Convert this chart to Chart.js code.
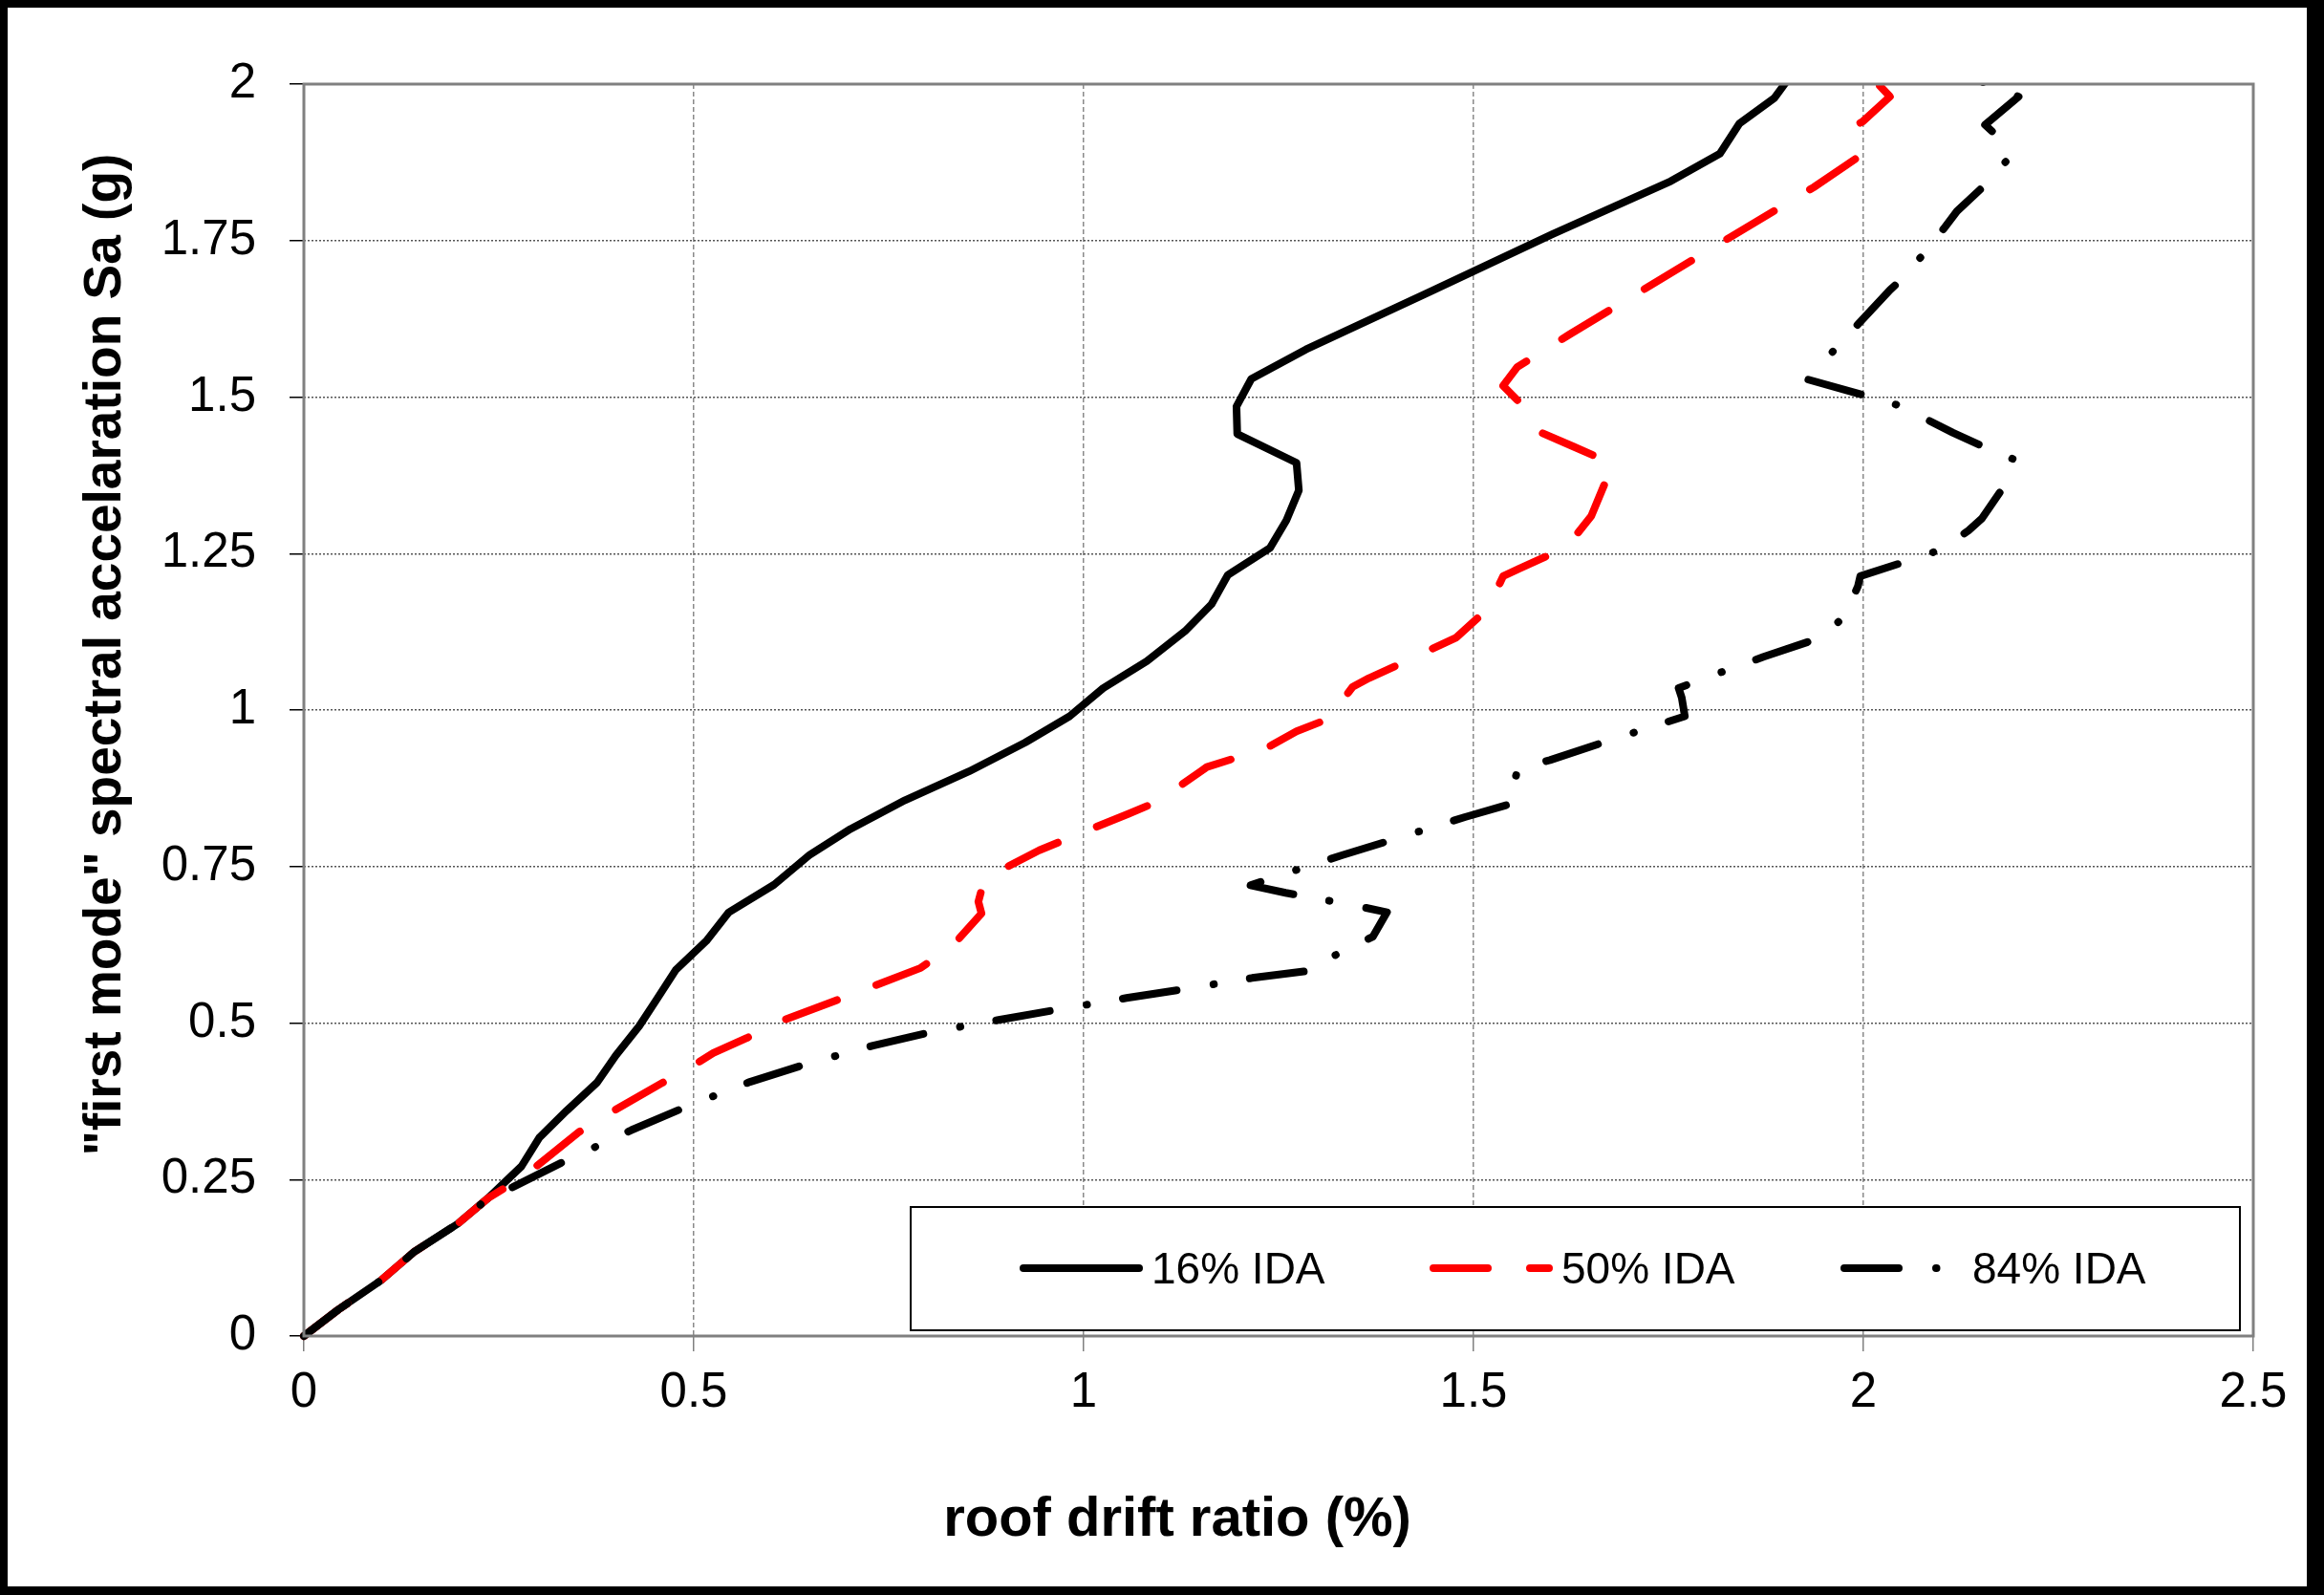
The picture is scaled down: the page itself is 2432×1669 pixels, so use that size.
<!DOCTYPE html>
<html>
<head>
<meta charset="utf-8">
<script src="https://cdn.jsdelivr.net/npm/chart.js@4.4.1/dist/chart.umd.min.js"></script>
<style>
html,body{margin:0;padding:0;background:#fff;}
canvas{display:block;}
</style>
</head>
<body>
<canvas id="c" width="2432" height="1669"></canvas>
<script>
// ---- data (roof drift ratio in %, Sa in g) ----
const drift16 = [0,0.044,0.099,0.142,0.197,0.236,0.279,0.302,0.337,0.376,0.400,0.430,0.451,0.477,0.516,0.545,0.603,0.649,0.701,0.771,0.853,0.925,0.982,1.025,1.081,1.130,1.164,1.185,1.239,1.260,1.276,1.273,1.197,1.196,1.215,1.285,1.440,1.601,1.753,1.816,1.841,1.886,1.899,1.911];
const sa16    = [0,0.042,0.089,0.135,0.179,0.220,0.271,0.317,0.360,0.405,0.448,0.495,0.535,0.585,0.631,0.677,0.721,0.769,0.810,0.856,0.902,0.948,0.990,1.035,1.078,1.126,1.169,1.216,1.259,1.303,1.351,1.395,1.441,1.485,1.529,1.576,1.666,1.760,1.845,1.889,1.937,1.978,2.000,2.020];

const drift50 = [0,0.044,0.099,0.142,0.197,0.236,0.262,0.291,0.353,0.392,0.459,0.498,0.525,0.568,0.603,0.678,0.720,0.791,0.826,0.838,0.869,0.865,0.873,0.943,0.982,1.057,1.095,1.150,1.158,1.199,1.240,1.273,1.314,1.345,1.366,1.408,1.478,1.509,1.520,1.538,1.559,1.619,1.651,1.668,1.675,1.628,1.587,1.565,1.538,1.556,1.623,1.830,1.936,2.000,1.994,1.999,2.034,2.019,2.010];
const sa50    = [0,0.042,0.089,0.135,0.179,0.220,0.240,0.264,0.326,0.356,0.404,0.431,0.452,0.476,0.499,0.534,0.554,0.588,0.619,0.632,0.675,0.694,0.731,0.776,0.796,0.834,0.854,0.902,0.909,0.925,0.943,0.966,0.986,1.037,1.051,1.075,1.116,1.151,1.166,1.214,1.226,1.260,1.310,1.361,1.395,1.421,1.443,1.484,1.518,1.548,1.600,1.756,1.835,1.889,1.937,1.940,1.980,2.000,2.020];

const drift84 = [0,0.044,0.099,0.142,0.197,0.236,0.268,0.337,0.420,0.490,0.572,0.646,0.730,0.806,0.891,0.969,1.055,1.133,1.216,1.293,1.296,1.371,1.389,1.343,1.259,1.214,1.249,1.331,1.407,1.489,1.553,1.549,1.557,1.598,1.673,1.771,1.767,1.763,1.788,1.830,1.872,1.946,1.976,1.993,1.996,2.061,2.101,2.135,2.152,2.184,2.192,2.152,2.115,2.080,2.042,2.001,1.929,1.935,1.963,1.992,2.034,2.048,2.076,2.103,2.120,2.157,2.186,2.169,2.156,2.199,2.120];
const sa84    = [0,0.042,0.089,0.135,0.179,0.220,0.238,0.281,0.329,0.366,0.406,0.435,0.464,0.486,0.505,0.522,0.540,0.555,0.572,0.584,0.592,0.638,0.677,0.689,0.708,0.720,0.735,0.768,0.797,0.829,0.852,0.869,0.907,0.920,0.951,0.990,1.020,1.035,1.047,1.066,1.085,1.116,1.150,1.198,1.214,1.240,1.257,1.287,1.306,1.364,1.401,1.422,1.443,1.465,1.488,1.503,1.528,1.535,1.576,1.615,1.671,1.687,1.727,1.769,1.797,1.840,1.881,1.920,1.935,1.980,2.020];

const seriesNames = ['16% IDA','50% IDA','84% IDA'];
const xTickLabels = ['0','0.5','1','1.5','2','2.5'];
const yTickLabels = ['0','0.25','0.5','0.75','1','1.25','1.5','1.75','2'];
const xTitle = 'roof drift ratio (%)';
const yTitle = '"first mode" spectral accelaration Sa (g)';

const FONT = '"Liberation Sans", Arial, sans-serif';
const toPts = (xs, ys) => xs.map((x, i) => ({x: x, y: ys[i]}));

// outer black frame + white background
const outerFrame = {
  id: 'outerFrame',
  beforeDraw(chart) {
    const {ctx, width, height} = chart;
    ctx.save();
    ctx.fillStyle = '#fff';
    ctx.fillRect(0, 0, width, height);
    ctx.fillStyle = '#000';
    ctx.fillRect(0, 0, width, 8);
    ctx.fillRect(0, 0, 8, height);
    ctx.fillRect(width - 18, 0, 18, height);
    ctx.fillRect(0, height - 9, width, 9);
    ctx.restore();
  }
};

// gray plot-area frame + legend box
const plotDecor = {
  id: 'plotDecor',
  afterDatasetsDraw(chart) {
    const {ctx, chartArea: a} = chart;
    ctx.save();
    ctx.strokeStyle = '#808080';
    ctx.lineWidth = 3;
    ctx.strokeRect(a.left, a.top, a.right - a.left, a.bottom - a.top);

    // legend
    const bx = a.left + 635, by = a.bottom - 135, bw = a.right - 14 - bx, bh = 129;
    ctx.fillStyle = '#fff';
    ctx.fillRect(bx, by, bw, bh);
    ctx.strokeStyle = '#000';
    ctx.lineWidth = 2;
    ctx.strokeRect(bx, by, bw, bh);
    const offs = [118, 547, 977];
    const ly = by + 64;
    chart.data.datasets.forEach((ds, i) => {
      const x0 = bx + offs[i];
      ctx.save();
      ctx.strokeStyle = ds.borderColor;
      ctx.lineWidth = 8;
      ctx.lineCap = 'round';
      ctx.setLineDash(ds.borderDash || []);
      ctx.beginPath();
      ctx.moveTo(x0, ly);
      ctx.lineTo(x0 + 121, ly);
      ctx.stroke();
      ctx.restore();
      ctx.fillStyle = '#000';
      ctx.font = '46px ' + FONT;
      ctx.textAlign = 'left';
      ctx.textBaseline = 'alphabetic';
      ctx.fillText(ds.label, x0 + 134, by + 80);
    });
    ctx.restore();
  }
};

// axis titles
const axisTitles = {
  id: 'axisTitles',
  afterDraw(chart) {
    const {ctx, chartArea: a} = chart;
    ctx.save();
    ctx.fillStyle = '#000';
    ctx.font = 'bold 58px ' + FONT;
    ctx.textAlign = 'center';
    ctx.textBaseline = 'alphabetic';
    ctx.fillText(xTitle, a.left + 914, a.bottom + 209);
    ctx.font = 'bold 55px ' + FONT;
    ctx.translate(a.left - 192, a.top + 597);
    ctx.rotate(-Math.PI / 2);
    ctx.textBaseline = 'alphabetic';
    ctx.fillText(yTitle, 0, 0);
    ctx.restore();
  }
};

new Chart(document.getElementById('c'), {
  type: 'line',
  data: {
    datasets: [
      {label: seriesNames[0], data: toPts(drift16, sa16), borderColor: '#000', borderWidth: 8,
       borderCapStyle: 'round', borderJoinStyle: 'round', order: 3},
      {label: seriesNames[1], data: toPts(drift50, sa50), borderColor: '#ff0000', borderWidth: 8,
       borderDash: [57, 44], borderCapStyle: 'round', borderJoinStyle: 'round', order: 2},
      {label: seriesNames[2], data: toPts(drift84, sa84), borderColor: '#000', borderWidth: 8,
       borderDash: [57, 39, 0.5, 38], borderCapStyle: 'round', borderJoinStyle: 'round', order: 1}
    ]
  },
  options: {
    responsive: false,
    animation: false,
    devicePixelRatio: 1,
    layout: {padding: {left: 0, top: 88, right: 74, bottom: 0}},
    elements: {point: {radius: 0, hoverRadius: 0}, line: {tension: 0, fill: false}},
    datasets: {line: {clip: {left: 6, top: 0, right: 0, bottom: 6}}},
    plugins: {legend: {display: false}, tooltip: {enabled: false}, title: {display: false}},
    scales: {
      x: {
        type: 'linear', min: 0, max: 2.5,
        afterFit: s => { s.height = 271; },
        ticks: {
          stepSize: 0.5, padding: 13, color: '#000', maxRotation: 0,
          font: {family: FONT, size: 51},
          callback: (v) => xTickLabels[Math.round(v / 0.5)]
        },
        grid: {color: '#8a8a8a', lineWidth: 1.5, tickLength: 16, tickColor: '#808080', tickWidth: 1.5},
        border: {display: false, dash: [5, 3]}
      },
      y: {
        type: 'linear', min: 0, max: 2,
        afterFit: s => { s.width = 318; },
        ticks: {
          stepSize: 0.25, padding: 35, color: '#000',
          font: {family: FONT, size: 51},
          callback: (v) => yTickLabels[Math.round(v / 0.25)]
        },
        grid: {color: '#555', lineWidth: 1.5, tickLength: 15, tickColor: '#000', tickWidth: 1.5},
        border: {display: false, dash: [2, 2]}
      }
    }
  },
  plugins: [outerFrame, plotDecor, axisTitles]
});
</script>
</body>
</html>
